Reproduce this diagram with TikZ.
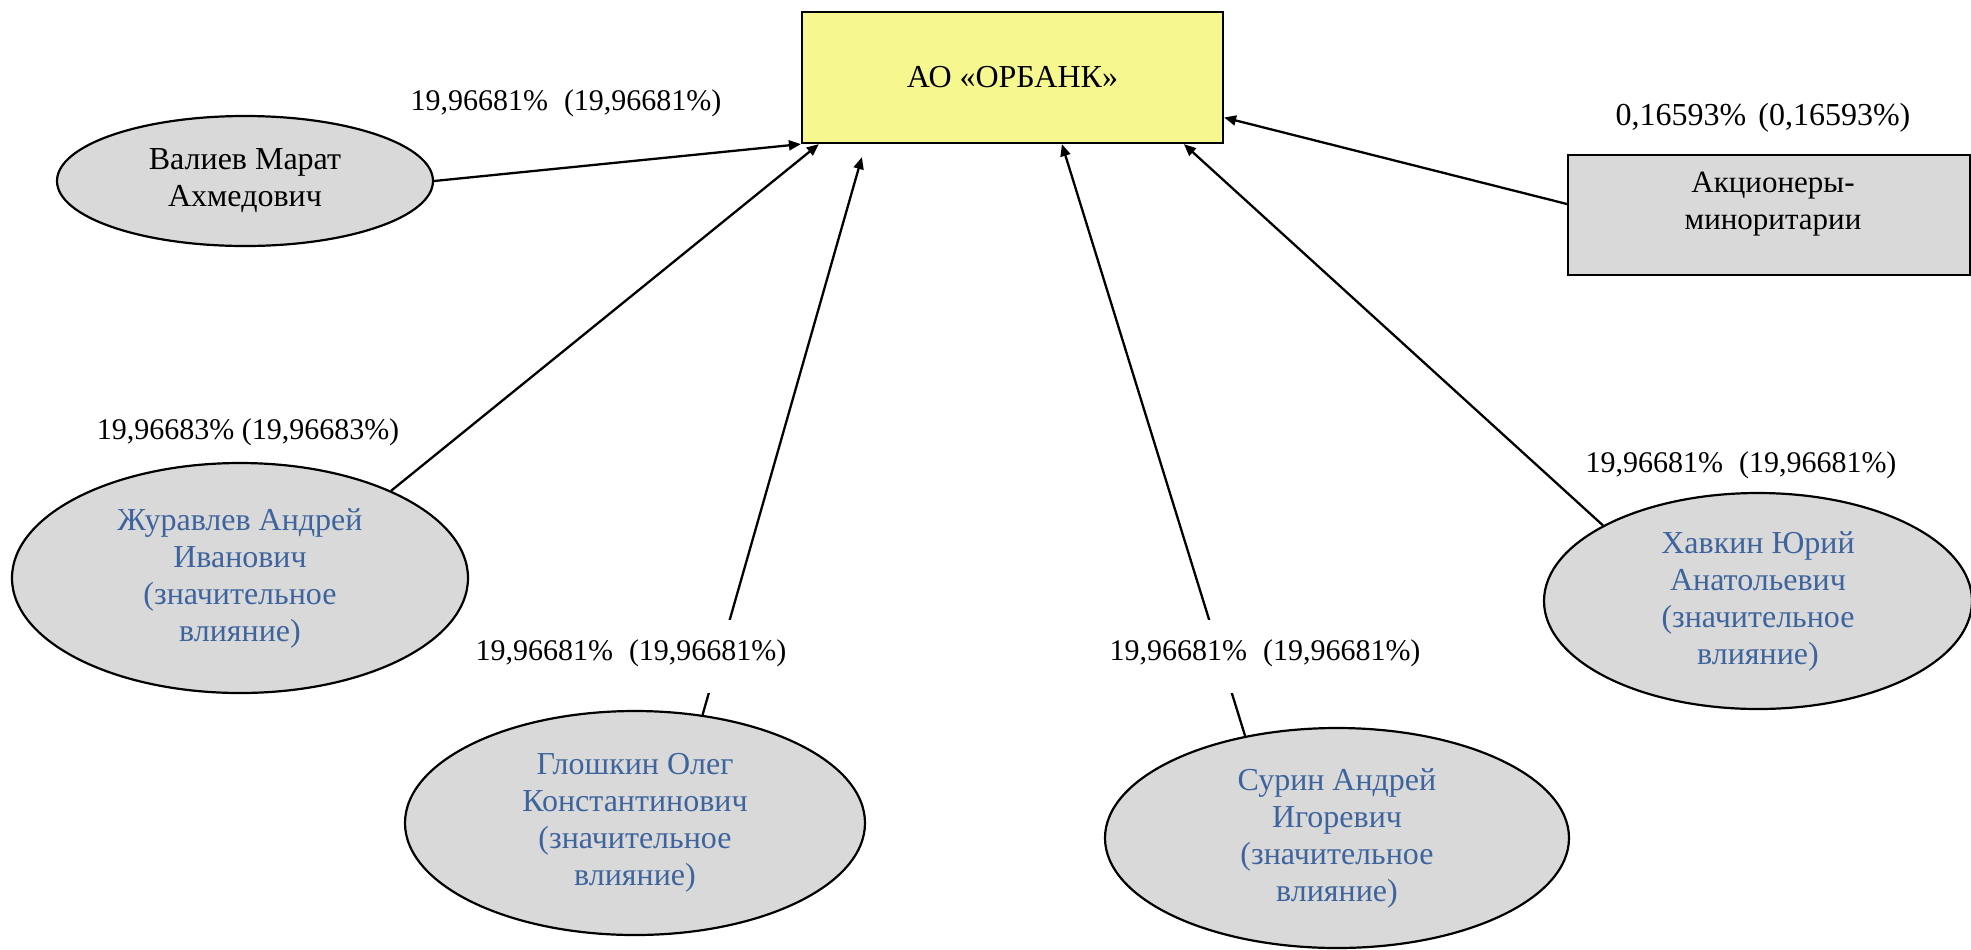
\documentclass[tikz,border=0pt]{standalone}
\usepackage{fontspec}
\setmainfont{Liberation Serif}
\usetikzlibrary{shapes.geometric,arrows.meta,calc}
\definecolor{bankyellow}{RGB}{247,247,143}
\definecolor{nodegray}{RGB}{217,217,217}
\definecolor{nameblue}{RGB}{62,100,158}
\begin{document}
\begin{tikzpicture}[x=0.5pt,y=-0.5pt,
  font=\fontsize{15}{18.5}\selectfont,
  namefont/.style={font=\fontsize{16}{18.5}\selectfont},
  person/.style={ellipse, draw, line width=1.1pt, fill=nodegray, inner sep=0pt, align=center, namefont},
  infl/.style={person, text=nameblue},
  share/.style={-{Triangle[length=6pt,width=5pt]}, line width=1.15pt},
  pct/.style={anchor=base, inner sep=0pt},
  gap/.style={pct, fill=white, text height=20pt, text depth=16.5pt}]
\useasboundingbox (0,0) rectangle (1971,949);

\node[draw, line width=1.1pt, fill=bankyellow, minimum width=210.5pt, minimum height=65.5pt, inner sep=0pt, namefont] (bank) at (1012.5,77.5) {АО «ОРБАНК»};

\node[person, minimum width=188pt, minimum height=65pt] (val) at (245,181) {Валиев Марат\\Ахмедович};
\node[infl, minimum width=228pt, minimum height=115pt] (zh) at (240,578) {Журавлев Андрей\\Иванович\\(значительное\\влияние)};
\node[infl, minimum width=230pt, minimum height=112pt] (glo) at (635,823) {Глошкин Олег\\Константинович\\(значительное\\влияние)};
\node[infl, minimum width=232pt, minimum height=110pt] (sur) at (1337,838) {Сурин Андрей\\Игоревич\\(значительное\\влияние)};
\node[infl, minimum width=214pt, minimum height=108pt] (hav) at (1758,601) {Хавкин Юрий\\Анатольевич\\(значительное\\влияние)};

\node[draw, line width=1.1pt, fill=nodegray, minimum width=201pt, minimum height=60pt, inner sep=0pt] (minor) at (1769,215) {};
\node[align=center, inner sep=0pt, font=\fontsize{15.5}{18.5}\selectfont] (minortext) at (1773,204) {Акционеры-\\миноритарии};

\draw[share] (val.east) -- (bank.south west);
\draw[share] (zh.30) -- ($(bank.south west)+(18,0)$);
\draw[share] (glo.58) -- ($(bank.south west)+(61,13)$);
\draw[share] (sur.132) -- ($(bank.south west)+(261,0)$);
\draw[share] (hav.154) -- ($(bank.south west)+(383,0)$);
\draw[share] ($(minor.west)+(0,-11)$) -- ($(bank.east)+(0,40)$);

\node[pct] (pval) at (566,110) {19,96681\%\hspace{8pt}(19,96681\%)};
\node[pct] (pzh) at (248,439) {19,96683\% (19,96683\%)};
\node[pct, font=\fontsize{16}{18.5}\selectfont] (pminor) at (1763,125) {0,16593\%\hspace{6pt}(0,16593\%)};
\node[pct] (phav) at (1741,472) {19,96681\%\hspace{8pt}(19,96681\%)};
\node[gap] (pglo) at (631,660) {19,96681\%\hspace{8pt}(19,96681\%)};
\node[gap] (psur) at (1265,660) {19,96681\%\hspace{8pt}(19,96681\%)};
\end{tikzpicture}
\end{document}
